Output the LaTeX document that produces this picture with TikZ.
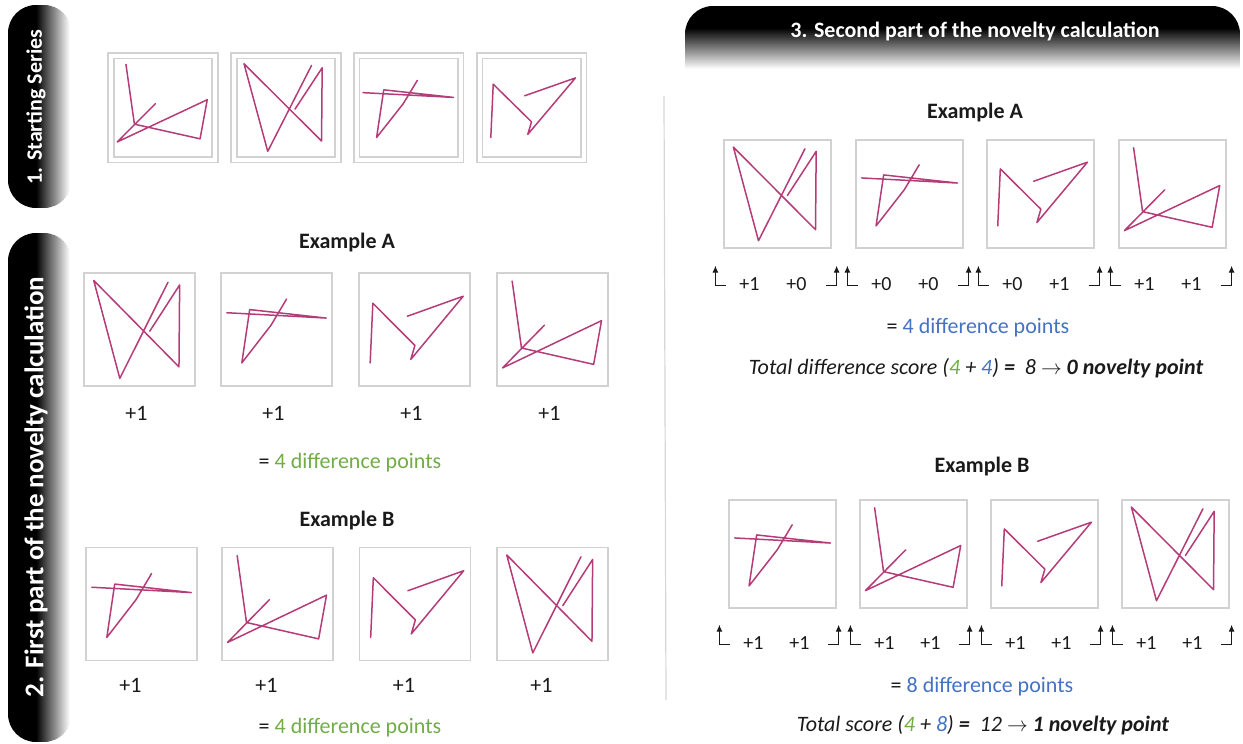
\documentclass[tikz,border=0pt]{standalone}
\usepackage{fontspec}
\setmainfont{Carlito}
\usetikzlibrary{arrows.meta,positioning,calc}
\definecolor{nvInk}{HTML}{1A1A1A}
\definecolor{nvPen}{HTML}{B43C78}
\definecolor{nvGreen}{HTML}{70AD47}
\definecolor{nvBlue}{HTML}{4472C4}
\definecolor{nvFrame}{HTML}{D2D2D2}
\definecolor{nvRule}{HTML}{D6D6D6}
\tikzset{
    frame/.style={draw=nvFrame, line width=1.2pt, minimum width=111pt, minimum height=113pt, inner sep=0pt},
    sframe/.style={draw=nvFrame, line width=1.8pt, double=white, double distance=4pt, minimum width=104pt, minimum height=104pt, inner sep=0pt},
    pen/.style={draw=nvPen, line width=1.5pt, line join=round, line cap=round},
    lbl/.style={font=\fontsize{22}{26}\selectfont, text=nvInk},
    sc/.style={font=\fontsize{20}{24}\selectfont, text=nvInk},
    head/.style={font=\fontsize{22}{26}\selectfont\bfseries, text=nvInk},
    tabtext/.style={font=\fontsize{22}{26}\selectfont\bfseries, text=white},
    turn/.style={-{Latex[length=7pt,width=6pt]}, line width=1.2pt, draw=nvInk},
    pics/shpW/.style={code={\draw[pen] (0.762,0.087) -- (0.328,0.938) -- (0.093,0.071) -- (0.861,0.836) -- (0.867,0.111) -- (0.598,0.520);}},
    pics/shpT/.style={code={\draw[pen] (0.059,0.357) -- (0.953,0.404) -- (0.264,0.329) -- (0.193,0.801) -- (0.457,0.466) -- (0.596,0.236);}},
    pics/shpN/.style={code={\draw[pen] (0.106,0.801) -- (0.130,0.273) -- (0.509,0.646) -- (0.472,0.770) -- (0.944,0.211) -- (0.441,0.388);}},
    pics/shpL/.style={code={\draw[pen] (0.142,0.077) -- (0.226,0.669) -- (0.876,0.814) -- (0.947,0.427) -- (0.056,0.845) -- (0.433,0.467);}}
}
\begin{document}
\begin{tikzpicture}[x=1pt,y=-1pt]
\useasboundingbox (0,0) rectangle (1243,744);
% tabs, faded strip by strip
\foreach \ya/\yb in {5/208, 233/742}{
  \begin{scope}
    \clip[rounded corners=28pt] (8,\ya) rectangle (72,\yb);
    \foreach \i in {0,...,63}{
      \pgfmathtruncatemacro\p{min(100,max(0,100*(62-\i)/34))}
      \fill[black!\p] (8+\i,\ya) rectangle (9.2+\i,\yb);
    }
  \end{scope}
}
\begin{scope}
  \clip[rounded corners=28pt] (685,6) rectangle (1240,110);
  \foreach \i in {0,...,65}{
    \pgfmathtruncatemacro\p{min(100,max(0,100*(63-\i)/41))}
    \fill[black!\p] (685,6+\i) rectangle (1240,7.2+\i);
  }
\end{scope}
\node[tabtext, rotate=90] (tab1) at (36,107) {1. Starting Series};
\node[tabtext, rotate=90, font=\fontsize{27}{32}\selectfont\bfseries] (tab2) at (36,487) {2. First part of the novelty calculation};
\node[tabtext] (tab3) at (975,31) {3. Second part of the novelty calculation};
\draw[nvRule, line width=1.2pt] (664,96) -- (666,700);
% 1. starting series
\foreach \n/\cx/\s in {1/163/shpL, 2/286/shpW, 3/408.5/shpT, 4/531.5/shpN}{
  \node[sframe] (s\n) at (\cx,107.5) {};
  \pic[x=101pt,y=-101pt,xshift=1.5pt,yshift=-2pt] at (s\n.north west) {\s};
}
% 2. first part
\node[head] (laT) at (347,243) {Example A};
\foreach \n/\cx/\s in {1/139.5/shpW, 2/276.5/shpT, 3/414.5/shpN, 4/552.5/shpL}{
  \node[frame] (la\n) at (\cx,329.5) {};
  \pic[x=111pt,y=-113pt] at (la\n.north west) {\s};
  \node[lbl] (lap\n) at (\cx-3,413) {+1};
}
\node[lbl] (laS) at (350,463) {= \textcolor{nvGreen}{4 difference points}};
\node[head] (lbT) at (347,521) {Example B};
\foreach \n/\cx/\s in {1/141.5/shpT, 2/277.5/shpL, 3/415/shpN, 4/552.5/shpW}{
  \node[frame] (lb\n) at (\cx,604) {};
  \pic[x=111pt,y=-113pt] at (lb\n.north west) {\s};
  \node[lbl] (lbp\n) at (\cx-11,685) {+1};
}
\node[lbl] (lbS) at (350,728) {= \textcolor{nvGreen}{4 difference points}};
% 3. second part
\node[head] (raT) at (975,113) {Example A};
\foreach \n/\cx/\s/\a/\b in {1/777.5/shpW/+1/+0, 2/909.5/shpT/+0/+0, 3/1040.5/shpN/+0/+1, 4/1172.5/shpL/+1/+1}{
  \node[frame, minimum width=107pt, minimum height=108pt] (ra\n) at (\cx,194) {};
  \pic[x=107pt,y=-108pt] at (ra\n.north west) {\s};
  \coordinate (ral\n) at ($(ra\n.south west)+(-8,37)$);
  \coordinate (rar\n) at ($(ra\n.south east)+(5,37)$);
  \draw[turn] ($(ral\n)+(11,0)$) -- (ral\n) -- ++(0,-20);
  \draw[turn] ($(rar\n)+(-11,0)$) -- (rar\n) -- ++(0,-20);
  \node[sc] (raa\n) at ($(ra\n.south west)+(26,35)$) {\a};
  \node[sc] (rab\n) at ($(ra\n.south west)+(73,35)$) {\b};
}
\node[lbl] (raS) at (978,328) {= \textcolor{nvBlue}{4 difference points}};
\node[lbl, font=\fontsize{22}{26}\selectfont\itshape] (raX) at (976,368)
  {Total difference score (\textcolor{nvGreen}{4} + \textcolor{nvBlue}{4}) \textbf{=}~~8 $\rightarrow$ \textbf{0 novelty point}};
\node[head] (rbT) at (982,467) {Example B};
\foreach \n/\cx/\s in {1/782.5/shpT, 2/913.5/shpL, 3/1044.5/shpN, 4/1175.5/shpW}{
  \node[frame, minimum width=107pt, minimum height=108pt] (rb\n) at (\cx,554) {};
  \pic[x=107pt,y=-108pt] at (rb\n.north west) {\s};
  \coordinate (rbl\n) at ($(rb\n.south west)+(-9,36)$);
  \coordinate (rbr\n) at ($(rb\n.south east)+(2,36)$);
  \draw[turn] ($(rbl\n)+(11,0)$) -- (rbl\n) -- ++(0,-20);
  \draw[turn] ($(rbr\n)+(-11,0)$) -- (rbr\n) -- ++(0,-20);
  \node[sc] (rba\n) at ($(rb\n.south west)+(25,34)$) {+1};
  \node[sc] (rbb\n) at ($(rb\n.south west)+(71,34)$) {+1};
}
\node[lbl] (rbS) at (982,687) {= \textcolor{nvBlue}{8 difference points}};
\node[lbl, font=\fontsize{22}{26}\selectfont\itshape] (rbX) at (983,725)
  {Total score (\textcolor{nvGreen}{4} + \textcolor{nvBlue}{8}) \textbf{=}~~12 $\rightarrow$ \textbf{1 novelty point}};
\end{tikzpicture}
\end{document}
